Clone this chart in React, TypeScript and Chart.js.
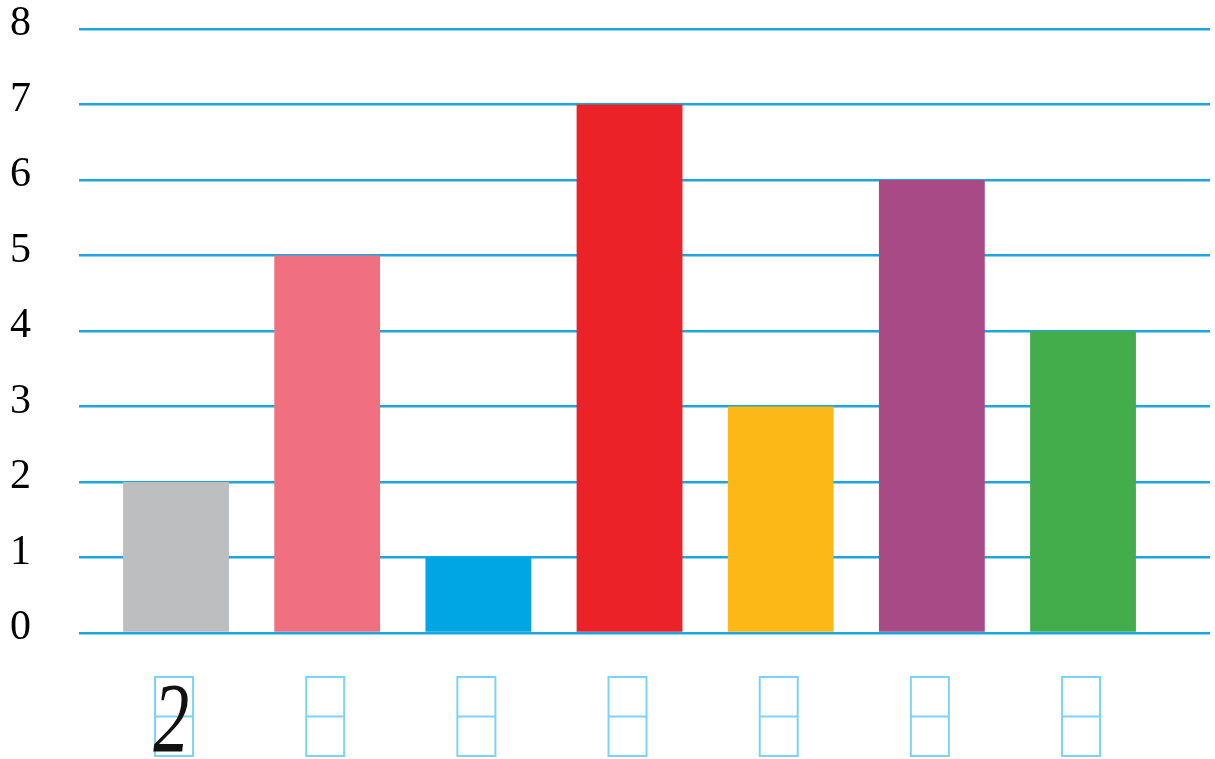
import React, { useEffect, useRef } from "react";
import { Chart, registerables } from "chart.js";

Chart.register(...registerables);

const values = [2, 5, 1, 7, 3, 6, 4];
const barColors = ["#bdbec0", "#f07080", "#00a5e3", "#ec2229", "#fbb816", "#a84a85", "#42ad4a"];
const writtenLabels = ["2", "", "", "", "", "", ""];
const yTicks = [0, 1, 2, 3, 4, 5, 6, 7, 8];
const xPositions = [0, 1, 2, 3, 4, 5, 6];

const boxesPlugin = {
  id: "answerBoxes",
  afterDraw(chart: any) {
    const ctx = chart.ctx;
    const xs = chart.scales.x;
    const bottom = chart.chartArea.bottom;
    ctx.save();
    writtenLabels.forEach((lab, i) => {
      const cx = xs.getPixelForValue(i) - 2;
      const w = 38, top = bottom + 44, h = 79;
      ctx.strokeStyle = "#7dd3f6";
      ctx.lineWidth = 2;
      ctx.strokeRect(cx - w / 2, top, w, h);
      ctx.beginPath();
      ctx.moveTo(cx - w / 2, top + h / 2);
      ctx.lineTo(cx + w / 2, top + h / 2);
      ctx.stroke();
      if (lab) {
        ctx.save();
        ctx.translate(cx, top + h - 5);
        ctx.scale(0.72, 1);
        ctx.fillStyle = "#111";
        ctx.font = "italic 100px 'Liberation Serif'";
        ctx.textAlign = "center";
        ctx.textBaseline = "alphabetic";
        ctx.fillText(lab, -4, 0);
        ctx.restore();
      }
    });
    ctx.restore();
  },
};

export default function App() {
  const ref = useRef<HTMLCanvasElement>(null);
  useEffect(() => {
    document.body.style.margin = "0";
    const chart = new Chart(ref.current!, {
      type: "bar",
      data: {
        datasets: [
          {
            data: values.map((v, i) => ({ x: xPositions[i], y: v })),
            backgroundColor: barColors,
            borderWidth: 0,
            categoryPercentage: 1,
            barPercentage: 0.7,
          },
        ],
      },
      options: {
        animation: false,
        responsive: false,
        layout: { padding: { left: 10, right: 5, top: 29, bottom: 126 } },
        plugins: { legend: { display: false }, tooltip: { enabled: false } },
        scales: {
          x: {
            type: "linear",
            min: -0.642,
            max: 6.84,
            offset: false,
            display: false,
            grid: { display: false, offset: false },
            afterBuildTicks: (s: any) => {
              s.ticks = xPositions.map((v) => ({ value: v }));
            },
          },
          y: {
            min: 0,
            max: 8,
            afterBuildTicks: (s: any) => {
              s.ticks = yTicks.map((v) => ({ value: v }));
            },
            afterFit: (s: any) => {
              s.width = 69;
              s.paddingTop = 0;
              s.paddingBottom = 0;
            },
            border: { display: false },
            grid: { color: "#1ca5df", lineWidth: 2.5, drawTicks: false },
            ticks: {
              color: "#000",
              font: { family: "'Liberation Serif'", size: 42 },
              padding: 49,
              crossAlign: "far",
              labelOffset: -5,
            },
          },
        },
      },
      plugins: [boxesPlugin],
    } as any);
    return () => chart.destroy();
  }, []);
  return (
    <div style={{ width: 1215, height: 759 }}>
      <canvas ref={ref} width={1215} height={759} style={{ display: "block" }} />
    </div>
  );
}
